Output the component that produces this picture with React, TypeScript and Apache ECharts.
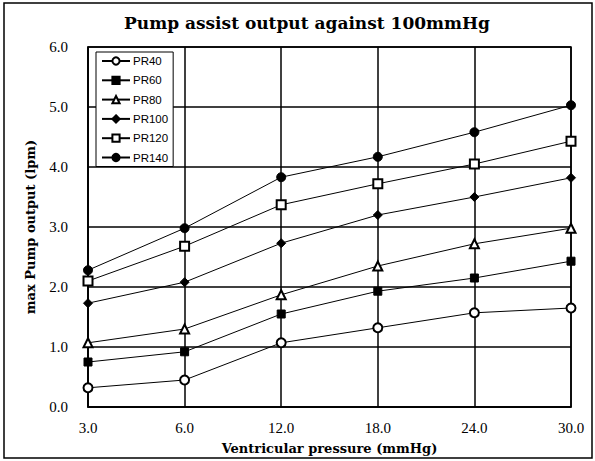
import React, { useEffect, useRef } from "react";
import * as echarts from "echarts";

const categories = ["3.0", "6.0", "12.0", "18.0", "24.0", "30.0"];
const seriesNames = ["PR40", "PR60", "PR80", "PR100", "PR120", "PR140"];
const pr40 = [0.32, 0.45, 1.07, 1.32, 1.57, 1.65];
const pr60 = [0.75, 0.92, 1.55, 1.93, 2.15, 2.43];
const pr80 = [1.07, 1.3, 1.87, 2.35, 2.72, 2.98];
const pr100 = [1.73, 2.08, 2.73, 3.2, 3.5, 3.82];
const pr120 = [2.1, 2.68, 3.37, 3.72, 4.05, 4.43];
const pr140 = [2.28, 2.98, 3.83, 4.17, 4.58, 5.03];
const seriesValues = [pr40, pr60, pr80, pr100, pr120, pr140];
const symbols = ["emptyCircle", "rect", "emptyTriangle", "diamond", "emptyRect", "circle"];
const symbolSizes = [9, 8, 9, 9, 9, 9];

export default function App() {
  const ref = useRef<HTMLDivElement>(null);
  useEffect(() => {
    document.body.style.margin = "0";
    const chart = echarts.init(ref.current!, null, { renderer: "svg" });
    const serif = "'Liberation Serif', 'Times New Roman', serif";
    const wideSerif = "'DejaVu Serif', 'Liberation Serif', serif";
    const sans = "'Liberation Sans', Arial, sans-serif";
    chart.setOption({
      animation: false,
      backgroundColor: "#ffffff",
      graphic: [
        {
          type: "rect",
          shape: { x: 4, y: 3, width: 588, height: 455 },
          style: { fill: "none", stroke: "#000", lineWidth: 1.5 },
          silent: true,
        },
        {
          type: "text",
          x: 307,
          y: 23,
          style: {
            text: "Pump assist output against 100mmHg",
            font: `bold 17px ${wideSerif}`,
            fill: "#000",
            align: "center",
            verticalAlign: "middle",
          },
        },
      ],
      grid: { left: 88, right: 24, top: 47, bottom: 54, show: true, borderColor: "#000", borderWidth: 1.5 },
      legend: {
        orient: "vertical",
        left: 96,
        top: 52,
        data: seriesNames,
        backgroundColor: "#fff",
        borderColor: "#000",
        borderWidth: 1,
        padding: [3, 5, 3, 5],
        itemWidth: 28,
        itemHeight: 9,
        itemGap: 7.3,
        textStyle: { fontFamily: sans, fontSize: 11.5, color: "#000", padding: [0, 0, 0, -2] },
      },
      xAxis: {
        type: "category",
        data: categories,
        boundaryGap: false,
        name: "Ventricular pressure (mmHg)",
        nameLocation: "middle",
        nameGap: 35,
        nameTextStyle: { fontFamily: wideSerif, fontWeight: "bold", fontSize: 13, color: "#000" },
        axisLine: { lineStyle: { color: "#000", width: 1.5 } },
        axisTick: { show: false },
        axisLabel: { fontFamily: serif, fontSize: 15, color: "#000", margin: 13 },
        splitLine: { show: true, lineStyle: { color: "#000", width: 1.5 } },
      },
      yAxis: {
        type: "value",
        min: 0,
        max: 6,
        interval: 1,
        name: "max Pump output (lpm)",
        nameLocation: "middle",
        nameGap: 51,
        nameTextStyle: { fontFamily: wideSerif, fontWeight: "bold", fontSize: 13, color: "#000" },
        axisLine: { show: true, lineStyle: { color: "#000", width: 1.5 } },
        axisTick: { show: false },
        axisLabel: {
          fontFamily: serif,
          fontSize: 15,
          color: "#000",
          margin: 20,
          formatter: (v: number) => v.toFixed(1),
        },
        splitLine: { show: true, lineStyle: { color: "#000", width: 1.5 } },
      },
      series: seriesNames.map((name, i) => ({
        name,
        type: "line",
        data: seriesValues[i],
        symbol: symbols[i],
        symbolSize: symbolSizes[i],
        showAllSymbol: true,
        lineStyle: { color: "#000", width: 1 },
        itemStyle: { color: "#000", borderColor: "#000", borderWidth: 1 },
        z: 3,
      })),
    });
    return () => chart.dispose();
  }, []);
  return <div ref={ref} style={{ width: 595, height: 461 }} />;
}
